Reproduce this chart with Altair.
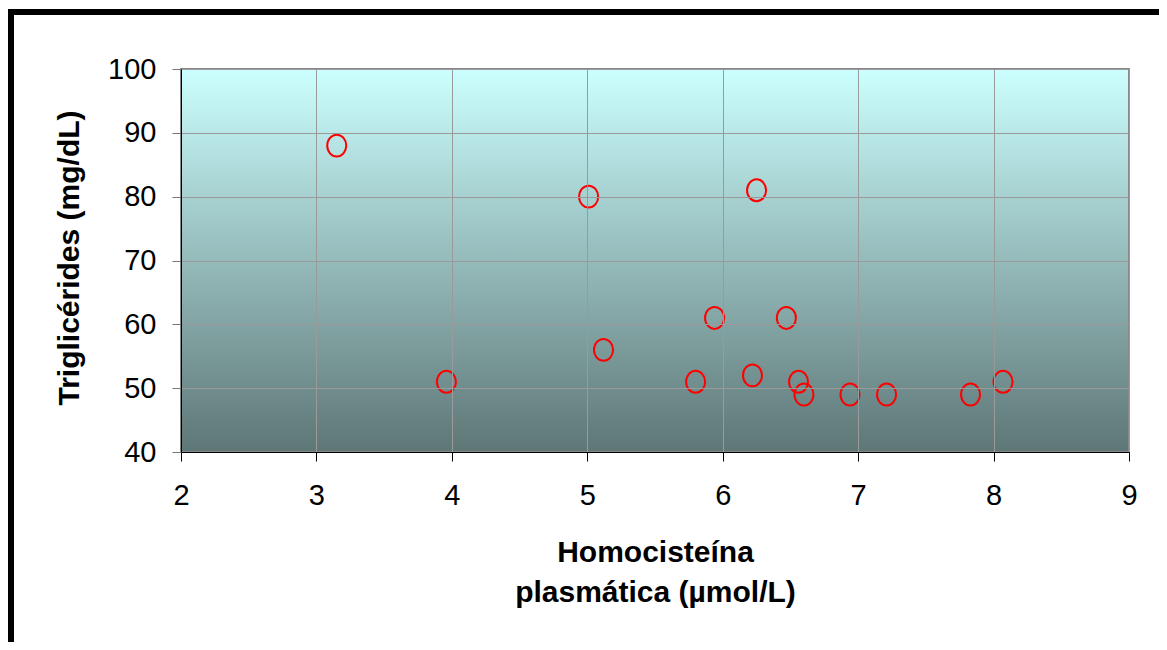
import altair as alt
import pandas as pd

# Data
homocisteina = [3.15, 3.96, 5.01, 5.12, 5.80, 5.94, 6.22, 6.25, 6.47, 6.56, 6.60, 6.94, 7.21, 7.83, 8.07]
trigliceridos = [88, 51, 80, 56, 51, 61, 52, 81, 61, 51, 49, 49, 49, 49, 51]
x_ticks = [2, 3, 4, 5, 6, 7, 8, 9]
y_ticks = [40, 50, 60, 70, 80, 90, 100]

df = pd.DataFrame({"h": homocisteina, "t": trigliceridos})

W, H = 948, 383
FONT = "Liberation Sans"

x_enc = alt.X("h:Q", scale=alt.Scale(domain=[2, 9], nice=False, zero=False),
              axis=alt.Axis(values=x_ticks, title=["Homocisteína", "plasmática (µmol/L)"],
                            titleX=W / 2, titleY=85, titleAlign="center", titleBaseline="top",
                            titleLineHeight=40, titleFontSize=30, titleFontWeight="bold",
                            titleFont=FONT, titleColor="black",
                            labelFont=FONT, labelFontSize=29, labelColor="black", labelPadding=20,
                            tickSize=9, tickColor="black", domainColor="black", domainWidth=1,
                            gridColor="#9a9a9a", gridWidth=1, zindex=1, labelFlush=False))
y_enc = alt.Y("t:Q", scale=alt.Scale(domain=[40, 100], nice=False, zero=False),
              axis=alt.Axis(values=y_ticks, title="Triglicérides (mg/dL)",
                            titleX=-112, titleY=H / 2 - 3, titleAngle=270, titleAlign="center",
                            titleBaseline="middle", titleFontSize=30, titleFontWeight="bold",
                            titleFont=FONT, titleColor="black",
                            labelFont=FONT, labelFontSize=29, labelColor="black", labelPadding=16,
                            tickSize=9, tickColor="#777777", domainColor="black", domainWidth=1,
                            gridColor="#9a9a9a", gridWidth=1, zindex=1, labelFlush=False))

bg = alt.Chart(alt.Data(values=[{}])).mark_rect(
    fill=alt.Gradient(gradient="linear",
                      stops=[alt.GradientStop(color="#ccffff", offset=0),
                             alt.GradientStop(color="#5e7676", offset=1)],
                      x1=0, x2=0, y1=0, y2=1),
    stroke="#888888", strokeWidth=2
).encode(x=alt.value(0), x2=alt.value(W), y=alt.value(0), y2=alt.value(H))

ellipse = "M0,-1A0.87,1 0 1,1 0,1A0.87,1 0 1,1 0,-1Z"
pts = alt.Chart(df).mark_point(shape=ellipse, size=480, filled=False, color="#ff0000",
                               strokeWidth=2, opacity=1).encode(x=x_enc, y=y_enc)

border_top = alt.Chart(alt.Data(values=[{}])).mark_rule(color="black", strokeWidth=6, clip=False).encode(
    x=alt.value(-181), x2=alt.value(1167 - 181), y=alt.value(12 - 69))
border_left = alt.Chart(alt.Data(values=[{}])).mark_rule(color="black", strokeWidth=6, clip=False).encode(
    x=alt.value(11 - 181), y=alt.value(9 - 69), y2=alt.value(650 - 69))

chart = alt.layer(bg, pts, border_top, border_left).properties(
    width=W, height=H,
    autosize=alt.AutoSizeParams(type="none"),
    padding={"left": 173, "top": 61, "right": 30, "bottom": 190},
    background="white"
).configure_view(stroke=None)

chart.save("out.html", embed_options={"renderer": "svg", "actions": False})
